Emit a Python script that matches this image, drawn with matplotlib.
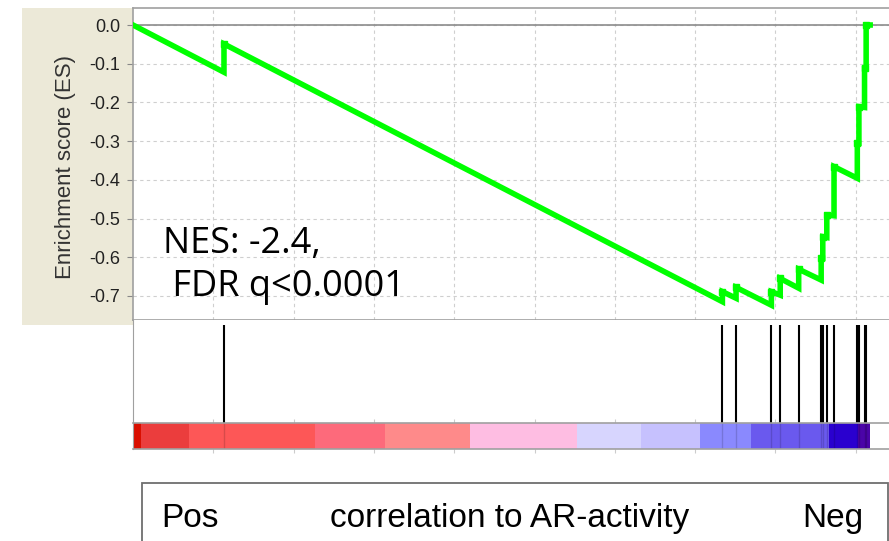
import numpy as np
import matplotlib
matplotlib.use('Agg')
import matplotlib.pyplot as plt
from matplotlib.patches import Rectangle

# Running enrichment score: gene set hits (rank position) and ES just before / after each hit
list_size = 9180
hit_ranks = [1133, 7340, 7510, 7950, 8060, 8290, 8570, 8590, 8640, 8730, 9020, 9040, 9110, 9130]
es_before = [-0.122, -0.715, -0.706, -0.724, -0.698, -0.680, -0.659, -0.603, -0.549, -0.493, -0.396, -0.306, -0.213, -0.112]
es_after = [-0.049, -0.689, -0.678, -0.689, -0.655, -0.631, -0.603, -0.547, -0.491, -0.366, -0.306, -0.211, -0.112, 0.0]

# Ranked list metric colour bands (start rank, colour)
band_starts = [0, 100, 700, 2270, 3140, 4200, 5530, 6330, 7060, 7690, 8670, 9030]
band_colors = ['#D90F00', '#EB3D3D', '#FD5757', '#FD6A7B', '#FE8A8A', '#FEBDE2',
               '#D7D5FE', '#C6C1FE', '#8A89FE', '#6A59EE', '#2A00CF', '#4B04A8']

yticks = [0.0, -0.1, -0.2, -0.3, -0.4, -0.5, -0.6, -0.7]
ytick_labels = ['0.0', '-0.1', '-0.2', '-0.3', '-0.4', '-0.5', '-0.6', '-0.7']

W, H = 889, 541
def box(x0, y0, x1, y1):
    return [x0 / W, 1 - y1 / H, (x1 - x0) / W, (y1 - y0) / H]

plt.rcParams['font.family'] = 'Liberation Sans'
fig = plt.figure(figsize=(W / 100, H / 100), dpi=100)

# beige panel behind the y axis
fig.patches.append(Rectangle((22 / W, 1 - 325 / H), (133 - 22) / W, (325 - 8) / H,
                             transform=fig.transFigure, facecolor='#ECE9D8', edgecolor='none', zorder=-5))

px_per_k = 80.3
xmax = (W - 133) / px_per_k * 1000
grid = np.arange(1000, xmax, 1000)

# --- main ES plot ---
ax = fig.add_axes(box(133, 8, 889, 320))
xs = [0]
ys = [0.0]
for r, b, a in zip(hit_ranks, es_before, es_after):
    xs += [r, r]
    ys += [b, a]
xs.append(list_size)
ys.append(0.0)
ax.plot(xs, ys, color='#00FF00', lw=4.0, solid_joinstyle='miter', zorder=3)
ax.plot(hit_ranks, es_after, 's', color='#00FF00', ms=5, zorder=3)
ax.axhline(0, color='#8C8C8C', lw=1.2, zorder=2)
ax.set_xlim(0, xmax)
ax.set_ylim(-(320 - 25) / 387, (25 - 8) / 387)
ax.set_yticks(yticks)
ax.set_yticklabels(ytick_labels, fontsize=13, color='#222222')
ax.set_xticks(grid)
ax.tick_params(axis='x', length=0, labelbottom=False)
ax.tick_params(axis='y', length=4, color='#888888', pad=5)
ax.grid(True, color='#CFCFCF', linestyle=(0, (3, 3)), lw=0.8)
for s in ['left', 'top', 'bottom']:
    ax.spines[s].set_color('#A0A0A0')
    ax.spines[s].set_linewidth(1.2)
ax.spines['right'].set_visible(False)
fig.text(66 / W, 1 - 167 / H, 'Enrichment score (ES)', rotation=90, ha='center', va='center',
         fontsize=16, color='#333333')

ax.text(163 / W, 1 - 253 / H, 'NES: -2.4,', transform=fig.transFigure, fontsize=26,
        family='Open Sans', va='baseline', ha='left')
ax.text(163 / W, 1 - 296 / H, ' FDR q<0.0001', transform=fig.transFigure, fontsize=26,
        family='Open Sans', va='baseline', ha='left')

# --- hit panel ---
ax_hit = fig.add_axes(box(133, 320, 889, 423))
ax_hit.vlines(hit_ranks, 0, (423 - 325) / 103, color='black', lw=1.5)
ax_hit.set_xlim(0, xmax)
ax_hit.set_ylim(0, 1)
ax_hit.set_xticks(grid)
ax_hit.tick_params(axis='x', direction='in', length=3, color='#CCCCCC', labelbottom=False)
ax_hit.set_yticks([])
ax_hit.spines['left'].set_color('#A0A0A0')
for s in ['top', 'right', 'bottom']:
    ax_hit.spines[s].set_visible(False)

# --- ranked list colour bar ---
ax_bar = fig.add_axes(box(133, 423, 889, 449))
band_ends = band_starts[1:] + [list_size]
for s0, s1, c in zip(band_starts, band_ends, band_colors):
    ax_bar.barh(0.5, s1 - s0, left=s0, height=1, color=c, edgecolor='none')
ax_bar.vlines(hit_ranks, 0, 1, color='black', lw=1.0, alpha=0.15)
ax_bar.set_xlim(0, xmax)
ax_bar.set_ylim(0, 1)
ax_bar.set_xticks(grid)
ax_bar.tick_params(axis='x', direction='out', length=3, color='#CCCCCC', labelbottom=False)
ax_bar.set_yticks([])
for s in ['top', 'bottom']:
    ax_bar.spines[s].set_color('#A0A0A0')
    ax_bar.spines[s].set_linewidth(1.2)
ax_bar.spines['left'].set_color('#A0A0A0')
ax_bar.spines['right'].set_visible(False)

# --- bottom caption box ---
fig.patches.append(Rectangle((141.7 / W, -0.02), (888 - 141.7) / W, (541 - 483) / H + 0.02,
                             transform=fig.transFigure, facecolor='white', edgecolor='#6E6E6E', lw=1.3))
fig.text(190 / W, 1 - 527 / H, 'Pos', ha='center', va='baseline', fontsize=24)
fig.text(510 / W, 1 - 527 / H, 'correlation to AR-activity', ha='center', va='baseline', fontsize=24)
fig.text(833 / W, 1 - 527 / H, 'Neg', ha='center', va='baseline', fontsize=24)

fig.savefig('out.png', dpi=100)
